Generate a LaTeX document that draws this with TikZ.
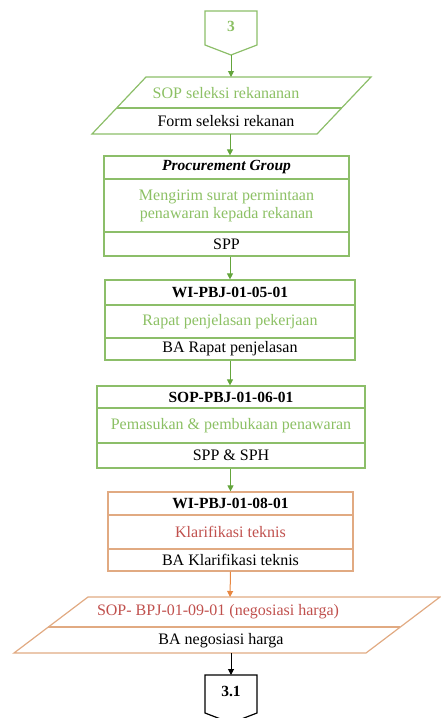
\documentclass[tikz,border=0pt]{standalone}
\usepackage{fontspec}
\setmainfont{Liberation Serif}
\usetikzlibrary{arrows.meta}
\definecolor{garishijau}{RGB}{140,190,105}
\definecolor{tekshijau}{RGB}{140,192,100}
\definecolor{panahhijau}{RGB}{100,165,60}
\definecolor{garisjingga}{RGB}{225,170,130}
\definecolor{panahjingga}{RGB}{232,135,65}
\definecolor{teksmerah}{RGB}{192,80,77}

\begin{document}
\begin{tikzpicture} [x = 1pt, y = -1pt, font = \fontsize{16}{18}\selectfont,
    row/.style = {draw = garishijau, line width = 1.2pt, inner sep = 0pt, align = center},
    rowo/.style = {row, draw = garisjingga},
    judul/.style = {font = \fontsize{15.5}{18}\selectfont\bfseries},
    flow/.style = {line width = 1pt, draw = panahhijau, -{Triangle[width=6pt, length=6pt]}}]
      \useasboundingbox (0,0) rectangle (441,718);

      % 接続記号 3
      \draw [garishijau, line width=1.2pt] (205,11) -- (257,11) -- (257,45) -- (231,55) -- (205,45) -- cycle;
      \node [text=tekshijau, judul] (c3) at (231,26) {3};
      \coordinate (c3tip) at (231,55);

      % SOP seleksi rekanan
      \draw [garishijau, line width=1.2pt] (146,77) -- (371,77) -- (317,134) -- (92,134) -- cycle;
      \draw [garishijau, line width=1.2pt] (116.5,108) -- (341.5,108);
      \node [text=tekshijau] (sop1) at (226,93) {SOP seleksi rekananan};
      \node (form1) at (226,121) {Form seleksi rekanan};
      \coordinate (p1top) at (231,77);
      \coordinate (p1bot) at (230,134);

      % Procurement Group
      \node [row, minimum width=245, minimum height=23, font=\fontsize{15.5}{18}\selectfont\bfseries\itshape] (pgt) at (226.5,167.5) {Procurement Group};
      \node [row, minimum width=245, minimum height=53, text=tekshijau] (pgb) at (226.5,205.5) {Mengirim surat permintaan\\penawaran kepada rekanan};
      \node [row, minimum width=245, minimum height=24] (pgo) at (226.5,244) {SPP};

      % WI-PBJ-01-05-01
      \node [row, minimum width=250, minimum height=25, judul] (w5t) at (230,292.5) {WI-PBJ-01-05-01};
      \node [row, minimum width=250, minimum height=33, text=tekshijau] (w5b) at (230,321.5) {Rapat penjelasan pekerjaan};
      \node [row, minimum width=250, minimum height=22] (w5o) at (230,349) {BA Rapat penjelasan};

      % SOP-PBJ-01-06-01
      \node [row, minimum width=268, minimum height=22, judul] (s6t) at (231,397) {SOP-PBJ-01-06-01};
      \node [row, minimum width=268, minimum height=35, text=tekshijau] (s6b) at (231,425.5) {Pemasukan \& pembukaan penawaran};
      \node [row, minimum width=268, minimum height=25] (s6o) at (231,455.5) {SPP \& SPH};

      % WI-PBJ-01-08-01
      \node [rowo, minimum width=245, minimum height=23, judul] (w8t) at (230.5,503.5) {WI-PBJ-01-08-01};
      \node [rowo, minimum width=245, minimum height=34, text=teksmerah] (w8b) at (230.5,532) {Klarifikasi teknis};
      \node [rowo, minimum width=245, minimum height=22] (w8o) at (230.5,560) {BA Klarifikasi teknis};

      % SOP negosiasi harga
      \draw [garisjingga, line width=1.2pt] (88,597) -- (440,597) -- (366,653) -- (14,653) -- cycle;
      \draw [garisjingga, line width=1.2pt] (48.4,627) -- (400.4,627);
      \node [text=teksmerah] (sop9) at (218,612) {SOP- BPJ-01-09-01 (negosiasi harga)};
      \node (ba9) at (221,641) {BA negosiasi harga};
      \coordinate (p2top) at (230,597);
      \coordinate (p2bot) at (231,653);

      % 接続記号 3.1
      \draw [black, line width=1.2pt] (205,675) -- (257,675) -- (257,713) -- (231,723) -- (205,713) -- cycle;
      \node [judul] (c31) at (231,691) {3.1};
      \coordinate (c31top) at (231,675);

      % 矢印
      \draw [flow] (c3tip) -- (p1top);
      \draw [flow] (p1bot) -- (p1bot |- pgt.north);
      \draw [flow] (pgo.south -| w5t.north) -- (w5t.north);
      \draw [flow] (w5o.south) -- (w5o.south |- s6t.north);
      \draw [flow] (s6o.south -| w8t.north) -- (w8t.north);
      \draw [flow, draw=panahjingga] (w8o.south) -- (p2top);
      \draw [flow, draw=black] (p2bot) -- (c31top);
    \end{tikzpicture}
\end{document}
